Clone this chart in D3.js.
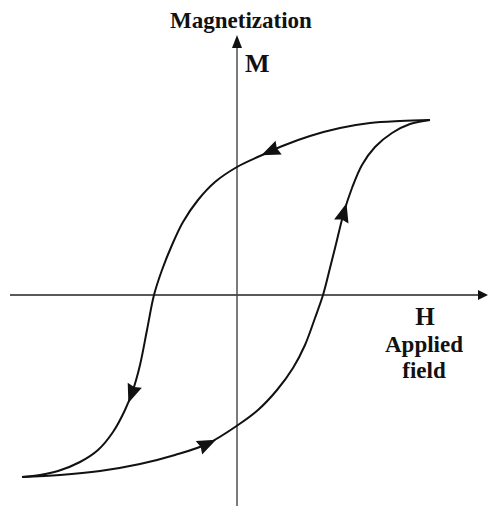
<html>
<head>
	<meta charset='utf-8' />
	<title>Hysteresis loop</title>
	<script src="https://d3js.org/d3.v7.min.js"></script>
	<style>
	body { margin: 0; background: #fff; }
	text { font-family: "Liberation Serif", "Times New Roman", serif; font-weight: bold; fill: #111; }
	</style>
</head>
<body>
<script>

	// descending branch (from +saturation down to -saturation), [H, M]
	var descH = [9.65, 8.15, 6.65, 5.15, 3.65, 2.4, 1.15, 0, -1.1, -1.95, -2.7, -3.25, -3.75, -4.15,
		-4.5, -4.85, -5.2, -5.6, -6.2, -6.95, -7.85, -8.95, -9.85, -10.75];
	var descM = [8.75, 8.7, 8.6, 8.35, 7.95, 7.5, 6.95, 6.4, 5.65, 4.75, 3.65, 2.5, 1.25, 0,
		-1.75, -3.5, -4.75, -5.75, -6.85, -7.75, -8.35, -8.8, -9.0, -9.1];

	// ascending branch (from -saturation back up)
	var ascH = [-10.75, -8.85, -6.85, -4.85, -3.1, -1.5, 0.05, 1.05, 2.0, 2.8, 3.4, 3.9, 4.3,
		4.65, 5.0, 5.35, 5.75, 6.25, 6.9, 7.75, 8.65, 9.65];
	var ascM = [-9.1, -9.0, -8.8, -8.45, -8.0, -7.45, -6.5, -5.75, -4.75, -3.65, -2.5, -1.15, 0,
		1.35, 2.75, 4.15, 5.35, 6.5, 7.4, 8.1, 8.55, 8.75];

	// where the direction arrows sit on each branch
	var descArrows = [[1.65, 7.2], [-5.35, -4.9]];
	var ascArrows = [[-1.5, -7.45], [5.3, 4.1]];

	var axisH = [-11.35, 12.55];
	var axisM = [-10.55, 13];

	var width = 489, height = 506;

	var svg = d3.select("body").append("svg")
		.attr("width", width)
		.attr("height", height);

	var xScale = d3.scaleLinear().domain([-10, 10]).range([37, 437]);
	var yScale = d3.scaleLinear().domain([-10, 10]).range([495, 95]);

	var line = d3.line()
		.x(d => xScale(d[0]))
		.y(d => yScale(d[1]))
		.curve(d3.curveCatmullRom.alpha(0.5));

	// axes
	svg.append("line")
		.attr("x1", xScale(axisH[0])).attr("x2", xScale(axisH[1]) - 8)
		.attr("y1", yScale(0)).attr("y2", yScale(0))
		.attr("stroke", "#222").attr("stroke-width", 1.7);
	svg.append("path")
		.attr("d", `M${xScale(axisH[1])},${yScale(0)} l-10,-5 l0,10 z`)
		.attr("fill", "#111");

	svg.append("line")
		.attr("x1", xScale(0)).attr("x2", xScale(0))
		.attr("y1", yScale(axisM[0])).attr("y2", yScale(axisM[1]) + 10)
		.attr("stroke", "#444").attr("stroke-width", 1.4);
	svg.append("path")
		.attr("d", `M${xScale(0)},${yScale(axisM[1])} l-5,13 l10,0 z`)
		.attr("fill", "#111");

	// loop branches
	var branches = [
		{h: descH, m: descM, arrows: descArrows},
		{h: ascH, m: ascM, arrows: ascArrows}
	];

	branches.forEach(function(b) {
		var pts = b.h.map((h, i) => [h, b.m[i]]);
		var path = svg.append("path")
			.datum(pts)
			.attr("fill", "none")
			.attr("stroke", "#111")
			.attr("stroke-width", 2)
			.attr("d", line);

		var node = path.node();
		var total = node.getTotalLength();

		b.arrows.forEach(function(a) {
			var ax = xScale(a[0]), ay = yScale(a[1]);
			// nearest point along the path
			var best = 0, bestD = Infinity;
			for (var s = 0; s <= total; s += 1) {
				var p = node.getPointAtLength(s);
				var d = (p.x - ax) * (p.x - ax) + (p.y - ay) * (p.y - ay);
				if (d < bestD) { bestD = d; best = s; }
			}
			var p0 = node.getPointAtLength(Math.max(0, best - 4));
			var p1 = node.getPointAtLength(Math.min(total, best + 4));
			var c = node.getPointAtLength(best);
			var ang = Math.atan2(p1.y - p0.y, p1.x - p0.x) * 180 / Math.PI;
			svg.append("path")
				.attr("d", "M10,0 L-9,-7.5 L-7,0 L-9,7.5 Z")
				.attr("fill", "#111")
				.attr("transform", `translate(${c.x},${c.y}) rotate(${ang})`);
		});
	});

	// labels
	svg.append("text")
		.attr("x", 241).attr("y", 28)
		.attr("text-anchor", "middle")
		.attr("font-size", "23px")
		.text("Magnetization");

	svg.append("text")
		.attr("x", 245).attr("y", 72)
		.attr("font-size", "26px")
		.text("M");

	svg.append("text")
		.attr("x", 425).attr("y", 325)
		.attr("text-anchor", "middle")
		.attr("font-size", "25px")
		.text("H");

	svg.append("text")
		.attr("x", 424).attr("y", 352)
		.attr("text-anchor", "middle")
		.attr("font-size", "23px")
		.text("Applied");

	svg.append("text")
		.attr("x", 424).attr("y", 378)
		.attr("text-anchor", "middle")
		.attr("font-size", "23px")
		.text("field");

</script>
</body>
</html>
